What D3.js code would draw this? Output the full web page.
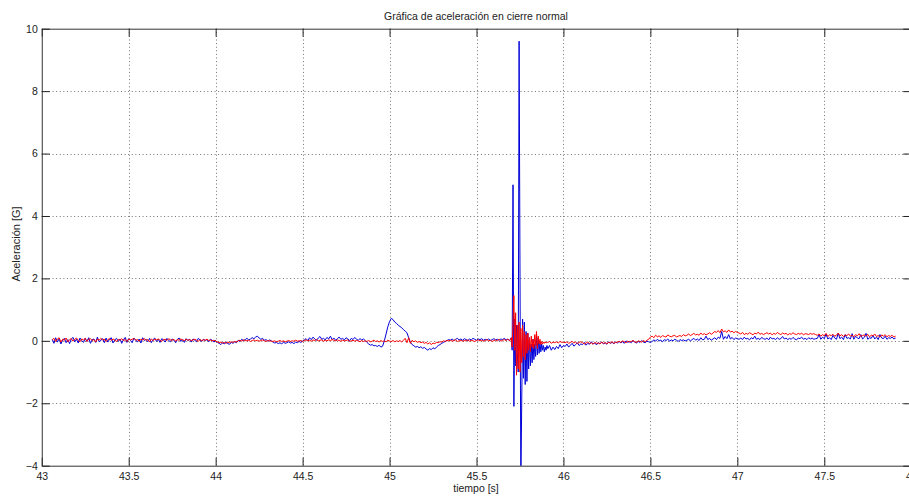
<!DOCTYPE html>
<html><head><meta charset="utf-8">
<script src="https://cdn.jsdelivr.net/npm/d3@7"></script>
<style>
html,body{margin:0;padding:0;background:#fff;overflow:hidden;}
text{font-family:"Liberation Sans",Arial,sans-serif;fill:#222;}
</style></head>
<body>
<svg id="chart" width="909" height="496"></svg>
<script>
// ---- data ----
const TITLE = "Gráfica de aceleración en cierre normal";
const X_LABEL = "tiempo [s]";
const Y_LABEL = "Aceleración [G]";
const X_TICKS = [43, 43.5, 44, 44.5, 45, 45.5, 46, 46.5, 47, 47.5, 48];
const Y_TICKS = [-4, -2, 0, 2, 4, 6, 8, 10];
const X_DOMAIN = [43, 48];
const Y_DOMAIN = [-4, 10];

// sampled segments: start time and sample step (s)
const SEG_T0 = [43.06, 45.695, 45.91];
const SEG_DT = [0.01, 0.005, 0.01];

// blue series (segment 1: 43.06 - 45.69)
const blue1 = [
.05,-.08,.1,-.04,.07,-.1,.02,.08,-.06,.04,
-.09,.06,.11,-.03,.05,-.07,.09,.01,-.05,.08,
-.02,.1,-.08,.04,.06,-.05,.12,-.03,.02,.07,
-.06,.09,-.04,.05,.1,-.07,.03,.08,-.02,.06,
-.08,.04,.11,-.05,.07,.02,-.06,.09,.03,-.04,
.06,-.07,.1,.01,.05,-.03,.08,-.06,.04,.09,
-.02,.05,-.05,.07,.03,-.04,.08,.01,-.03,.06,
.02,-.06,.05,.09,-.02,.04,-.05,.07,.01,.05,
-.04,.06,.02,-.03,.08,.03,-.02,.05,.01,.04,
-.03,.05,.02,-.04,.01,
-.05,-.08,-.12,-.06,-.1,-.04,-.09,-.11,-.05,-.08,-.03,-.06,
.02,-.02,.05,.01,.04,.08,.03,.06,.1,.07,.12,.15,.09,.05,.08,.02,.04,-.01,.03,0,
-.04,-.07,-.05,-.09,-.06,-.1,-.04,-.08,-.06,-.03,-.07,-.05,-.09,-.04,-.06,-.02,-.05,-.01,
.03,.07,.01,.1,.04,.12,.06,.02,.09,.14,.05,.08,.03,.11,.06,.15,.04,.09,.02,.07,.12,.05,.08,.03,.1,.06,.01,.08,.04,.11,.05,.02,.07,.03,.06,.01,
-.05,-.1,-.14,-.12,-.16,-.15,-.18,-.14,-.2,-.17,
0,.22,.45,.62,.72,.68,
.6,.56,.5,.46,.42,.36,.31,.26,
.1,-.05,-.12,
-.16,-.2,-.18,-.22,-.19,-.24,-.21,-.26,-.3,-.25,-.28,-.22,-.26,-.2,
-.15,-.12,-.08,-.05,-.02,.01,
.04,.02,.06,.01,.05,.08,.03,.06,.02,.07,.04,.01,.06,.03,.08,.05,.02,.06,.04,.07,.02,.05,.03,.06,.01,.04,.07,.03,.05,.02,.06,.04,.08,.03,.05,.02
];
// blue series (segment 2: 45.695 - 45.905, impact)
const blue2 = [
.05,.1,-.3,5.0,-2.1,.7,-.8,.5,-.4,-1.0,
9.6,2.5,-4.6,-2.0,.7,-1.2,.6,-1.4,.3,-1.3,
.25,-.9,.1,-.8,-.1,-.7,.05,-.6,-.1,-.5,
.2,-.45,.1,-.4,-.05,-.35,-.1,-.3,-.15,-.35,
-.2,-.3,-.15
];
// blue series (segment 3: 45.91 - 47.91)
const blue3 = [
-.25,-.15,-.3,-.2,-.28,-.18,-.25,-.12,-.22,-.15,
-.18,-.1,-.2,-.14,-.08,-.17,-.12,-.06,-.15,-.1,
-.12,-.05,-.14,-.08,-.11,-.03,-.1,-.07,-.13,-.06,-.09,-.04,-.1,-.06,-.11,-.03,-.08,-.05,-.09,-.04,
-.07,-.02,-.06,-.03,-.08,0,-.05,-.02,-.06,.01,-.04,-.07,-.02,-.05,.01,-.04,-.06,-.01,-.03,-.05,
-.02,.03,-.01,.05,0,.02,-.03,.04,.01,.06,-.01,.03,0,.05,.02,-.02,.04,.01,.03,0,
.02,.05,0,.04,.08,.02,.06,.01,.1,.03,.05,.15,.04,.08,.02,
.06,.1,.04,.12,.08,.3,.05,.14,.07,.2,.06,.11,.04,.09,.07,
.05,.09,.04,.12,.06,.08,.03,.1,.06,.15,.05,.08,.04,.11,.07,.05,.09,.03,.12,.06,.08,.04,.1,.05,.07,.14,.06,.09,.04,.08,.05,.11,.06,.03,.09,.07,.12,.05,.08,.04,.1,.06,.09,.05,.07,
.08,.2,.05,.12,.07,.22,.06,.1,.04,.18,.09,.05,.25,.07,.12,.04,.2,.08,.1,.06,.23,.05,.15,.09,.07,.2,.06,.11,.24,.05,.1,.08,.18,.06,.12,.04,.2,.09,.07,.15,.05,.1,.08,.12,.06,.09
];

// red series (segment 1)
const red1 = [
.03,.08,-.02,.06,.1,-.04,.05,.02,.09,-.03,
.04,.07,-.01,.05,.09,.02,-.03,.06,.03,.08,
-.02,.05,.07,.01,.04,-.04,.06,.02,.08,.03,
.05,-.02,.04,.07,.01,.06,.03,-.03,.05,.02,
.07,.01,.04,-.02,.06,.03,.05,.08,.02,.04,
-.01,.05,.03,.07,.02,.04,-.03,.06,.01,.05,
.03,.06,.02,-.02,.04,.05,.01,.07,.03,.02,
.05,-.01,.04,.02,.06,.03,.01,.05,.02,.04,
.01,.03,.05,.02,-.02,.04,.01,.03,.02,.05,
.01,.03,0,.02,-.01,
-.03,-.06,-.04,-.07,-.05,-.08,-.04,-.06,-.03,-.05,-.02,-.04,
0,.02,-.01,.03,.01,0,.02,-.02,.01,.03,0,.02,-.01,.01,.03,0,-.02,.01,0,-.01,
-.02,0,-.03,-.01,.01,-.02,0,-.03,-.01,.01,-.02,0,-.01,.02,-.01,0,.01,-.02,
.01,.03,0,.02,-.01,.03,.01,.04,0,.02,.03,-.01,.02,0,.03,.01,.04,.02,0,.03,.01,-.01,.02,0,.01,.03,-.02,0,.02,-.01,.01,0,-.03,.01,-.02,0,
-.02,.01,-.03,-.01,.02,-.02,0,-.04,.01,-.02,
0,-.03,.02,-.01,-.02,.01,
-.03,0,-.02,.01,-.04,.02,.08,-.06,
.1,-.08,.02,
-.03,0,-.05,-.02,-.06,-.04,-.08,-.05,-.1,-.06,-.12,-.07,-.09,-.05,
-.06,-.03,-.04,0,-.02,.01,
0,.02,-.01,.01,.03,-.02,0,.02,-.01,.01,0,.03,-.01,.02,0,-.02,.01,.03,0,.02,-.01,.01,.04,0,.02,-.02,.01,.03,0,.05,-.01,.02,.04,.01,.06,0
];
// red series (segment 2)
const red2 = [
.03,.1,-.2,.6,1.45,-.3,.9,-1.1,.5,-.9,
.6,-1.0,.4,-.7,.5,-.5,.3,-.6,.2,-.4,
.25,-.3,.1,-.35,.15,-.2,.05,-.25,.2,-.15,
.3,-.25,.15,-.1,.05,-.12,-.02,-.1,-.04,-.08,
-.03,-.07,-.05
];
// red series (segment 3)
const red3 = [
-.05,-.02,-.08,-.04,-.06,-.03,-.07,-.02,-.05,-.04,
-.06,-.03,-.08,-.05,-.02,-.07,-.04,-.09,-.05,-.03,
-.06,-.1,-.07,-.04,-.09,-.06,-.11,-.05,-.08,-.07,-.1,-.04,-.08,-.06,-.09,-.05,-.07,-.03,-.08,-.05,
-.04,-.02,-.05,0,-.03,-.06,-.01,-.04,-.02,.01,-.03,-.05,0,-.02,-.04,.01,-.03,.02,.05,.12,
.15,.1,.18,.13,.16,.11,.17,.14,.12,.19,.15,.13,.16,.18,.12,.15,.17,.14,.2,.16,
.18,.22,.17,.2,.24,.19,.21,.18,.25,.2,.23,.19,.22,.26,.21,
.25,.3,.27,.33,.26,.38,.29,.32,.27,.35,.28,.31,.26,.3,.27,
.25,.22,.27,.2,.24,.21,.26,.23,.19,.25,.22,.28,.21,.24,.2,.23,.26,.22,.25,.19,.24,.21,.27,.23,.2,.25,.22,.24,.19,.23,.21,.26,.22,.2,.24,.21,.25,.19,.23,.22,.2,.24,.21,.23,.2,
.18,.22,.15,.2,.16,.24,.14,.19,.17,.21,.15,.18,.25,.16,.2,.14,.19,.17,.22,.15,.18,.13,.2,.16,.23,.14,.17,.19,.15,.21,.13,.18,.16,.22,.14,.17,.12,.19,.15,.2,.13,.17,.14,.18,.12,.15
];

// ---- build ----
function buildSeries(segs) {
  const out = [];
  segs.forEach((vals, s) => vals.forEach((v, i) => out.push([SEG_T0[s] + SEG_DT[s] * i, v])));
  return out;
}
const blueData = buildSeries([blue1, blue2, blue3]);
const redData = buildSeries([red1, red2, red3]);

const W = 909, H = 496;
const m = {left: 41.75, right: 911.25, top: 28.7, bottom: 465.7};
const svg = d3.select("#chart");
const x = d3.scaleLinear().domain(X_DOMAIN).range([m.left, m.right]);
const y = d3.scaleLinear().domain(Y_DOMAIN).range([m.bottom, m.top]);

svg.append("rect").attr("width", W).attr("height", H).attr("fill", "#fff");

svg.append("defs").append("clipPath").attr("id", "clip")
  .append("rect").attr("x", m.left).attr("y", m.top)
  .attr("width", m.right - m.left).attr("height", m.bottom - m.top);

// grid
const grid = svg.append("g").attr("stroke", "#444").attr("stroke-width", 1)
  .attr("stroke-dasharray", "1,2.6").attr("opacity", 0.75);
X_TICKS.filter(t => t > X_DOMAIN[0] && t < X_DOMAIN[1]).forEach(t => {
  grid.append("line").attr("x1", Math.round(x(t)) + 0.5).attr("x2", Math.round(x(t)) + 0.5)
    .attr("y1", m.top).attr("y2", m.bottom);
});
Y_TICKS.filter(t => t > Y_DOMAIN[0] && t < Y_DOMAIN[1]).forEach(t => {
  grid.append("line").attr("y1", Math.round(y(t)) + 0.5).attr("y2", Math.round(y(t)) + 0.5)
    .attr("x1", m.left).attr("x2", m.right);
});

// data lines
const line = d3.line().x(d => x(d[0])).y(d => y(d[1]));
const plot = svg.append("g").attr("clip-path", "url(#clip)");
plot.append("path").datum(blueData).attr("d", line)
  .attr("fill", "none").attr("stroke", "#0000d8").attr("stroke-width", 1);
plot.append("path").datum(redData).attr("d", line)
  .attr("fill", "none").attr("stroke", "#ff0000").attr("stroke-width", 1);

// axes (box with inward ticks)
const axB = d3.axisBottom(x).tickValues(X_TICKS).tickSizeInner(-8).tickSizeOuter(0).tickPadding(12).tickFormat(d3.format("~g"));
const axT = d3.axisTop(x).tickValues(X_TICKS).tickSizeInner(-8).tickSizeOuter(0).tickFormat("");
const axL = d3.axisLeft(y).tickValues(Y_TICKS).tickSizeInner(-8).tickSizeOuter(0).tickPadding(4).tickFormat(d3.format("~g"));
const axR = d3.axisRight(y).tickValues(Y_TICKS).tickSizeInner(-8).tickSizeOuter(0).tickFormat("");

function style(g) {
  g.select(".domain").attr("stroke", "#333");
  g.selectAll(".tick line").attr("stroke", "#222");
  g.selectAll("text").attr("font-size", 10.5).attr("fill", "#333")
    .attr("font-family", "'Liberation Sans', Arial, sans-serif");
}
svg.append("g").attr("transform", `translate(0,${m.bottom})`).call(axB).call(style)
  .selectAll("text").attr("dy", "0.2em");
svg.append("g").attr("transform", `translate(0,${m.top})`).call(axT).call(style);
svg.append("g").attr("transform", `translate(${m.left},0)`).call(axL).call(style);
svg.append("g").attr("transform", `translate(${m.right},0)`).call(axR).call(style);

// title and labels
svg.append("text").attr("x", 476).attr("y", 20)
  .attr("text-anchor", "middle").attr("font-size", 10.5).text(TITLE);
svg.append("text").attr("x", 476).attr("y", 492)
  .attr("text-anchor", "middle").attr("font-size", 10.5).text(X_LABEL);
svg.append("text").attr("transform", `translate(20,244) rotate(-90)`)
  .attr("text-anchor", "middle").attr("font-size", 11).text(Y_LABEL);
</script>
</body></html>
